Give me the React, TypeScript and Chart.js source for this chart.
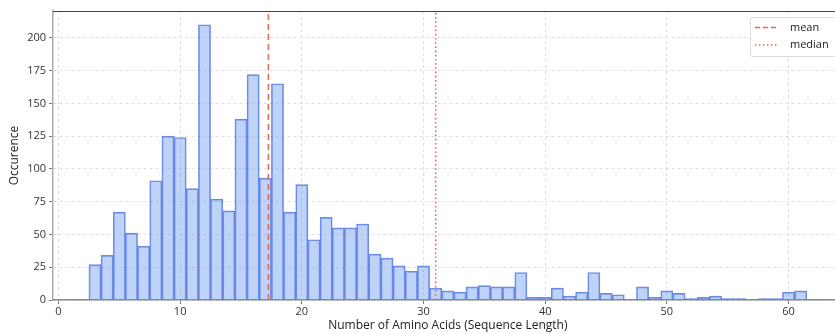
import React, { useEffect, useRef } from "react";
import { Chart, registerables } from "chart.js";

Chart.register(...registerables);

// Histogram bins (sequence length, one bin per integer length)
const lengths: number[] = [
  3, 4, 5, 6, 7, 8, 9, 10, 11, 12, 13, 14, 15, 16, 17, 18, 19, 20, 21, 22,
  23, 24, 25, 26, 27, 28, 29, 30, 31, 32, 33, 34, 35, 36, 37, 38, 39, 40, 41,
  42, 43, 44, 45, 46, 47, 48, 49, 50, 51, 52, 53, 54, 55, 56, 57, 58, 59, 60,
  61,
];
const counts: (number | null)[] = [
  27, 34, 67, 51, 41, 91, 125, 124, 85, 210, 77, 68, 138, 172, 93, 165, 67,
  88, 46, 63, 55, 55, 58, 35, 32, 26, 22, 26, 9, 7, 6, 10, 11, 10, 10, 21, 2,
  2, 9, 3, 6, 21, 5, 4, null, 10, 2, 7, 5, 1, 2, 3, 1, 1, null, 1, 1, 6, 7,
];

const meanLength = 17.25;
const medianLength = 31;

const xTickStep = 10;
const yTickStep = 25;
const xRange = [-0.45, 64.45];
const yRange = [0, 220.5];

const FONT = "'Open Sans', 'DejaVu Sans', sans-serif";
const LINE_RED = "#e8654f";

const W = 845;
const H = 334;

export default function App() {
  const ref = useRef<HTMLCanvasElement | null>(null);

  useEffect(() => {
    const canvas = ref.current;
    if (!canvas) return;

    const framePlugin = {
      id: "frame",
      afterDraw(chart: any) {
        const { ctx, chartArea } = chart;
        ctx.save();
        // top spine
        ctx.strokeStyle = "#444";
        ctx.lineWidth = 1;
        ctx.beginPath();
        ctx.moveTo(chartArea.left, chartArea.top + 0.5);
        ctx.lineTo(chartArea.right, chartArea.top + 0.5);
        ctx.stroke();

        // legend
        const bx = 750.5;
        const by = 17.5;
        const bw = 86;
        const bh = 39;
        ctx.fillStyle = "rgba(255,255,255,0.85)";
        ctx.strokeStyle = "#dcdcdc";
        ctx.lineWidth = 1;
        ctx.beginPath();
        ctx.roundRect(bx, by, bw, bh, 2);
        ctx.fill();
        ctx.stroke();

        const rows = [
          { label: "mean", dash: [5, 3], y: 27.5 },
          { label: "median", dash: [1.5, 2.5], y: 45 },
        ];
        ctx.font = `11px ${FONT}`;
        ctx.textBaseline = "middle";
        ctx.textAlign = "left";
        for (const r of rows) {
          ctx.strokeStyle = LINE_RED;
          ctx.lineWidth = 1.5;
          ctx.setLineDash(r.dash);
          ctx.beginPath();
          ctx.moveTo(755, r.y);
          ctx.lineTo(779, r.y);
          ctx.stroke();
          ctx.setLineDash([]);
          ctx.fillStyle = "#222";
          ctx.fillText(r.label, 790, r.y);
        }
        ctx.restore();
      },
    };

    const vline = (x: number) => [
      { x, y: yRange[0] },
      { x, y: yRange[1] },
    ];

    const chart = new Chart(canvas, {
      type: "bar",
      data: {
        datasets: [
          {
            type: "bar",
            label: "count",
            data: lengths.map((x, i) => ({ x, y: counts[i] })) as any,
            backgroundColor: "rgba(100,149,237,0.42)",
            borderColor: "rgba(75,110,222,0.8)",
            borderWidth: 1,
            barPercentage: 1,
            categoryPercentage: 1,
            grouped: false,
            order: 2,
          },
          {
            type: "line",
            label: "mean",
            data: vline(meanLength),
            borderColor: LINE_RED,
            borderWidth: 1.5,
            borderDash: [6, 4],
            pointRadius: 0,
            fill: false,
            order: 1,
          },
          {
            type: "line",
            label: "median",
            data: vline(medianLength),
            borderColor: LINE_RED,
            borderWidth: 1.6,
            borderDash: [1.6, 2.6],
            pointRadius: 0,
            fill: false,
            order: 1,
          },
        ],
      },
      options: {
        responsive: false,
        animation: false,
        layout: { padding: { top: 11, right: 2.3, left: 0, bottom: 0 } },
        plugins: {
          legend: { display: false },
          tooltip: { enabled: false },
        },
        scales: {
          x: {
            type: "linear",
            min: xRange[0],
            max: xRange[1],
            offset: false,
            afterFit(scale: any) {
              scale.height = 34;
            },
            ticks: {
              stepSize: xTickStep,
              includeBounds: false,
              font: { family: FONT, size: 11 },
              color: "#333",
              padding: 1,
              maxRotation: 0,
            },
            grid: {
              color: "#d6d6d6",
              lineWidth: 0.8,
              offset: false,
              tickLength: 4,
              tickColor: "#555",
              tickBorderDash: [],
            },
            border: { color: "#888", width: 1.5, dash: [3, 3] },
            title: {
              display: true,
              text: "Number of Amino Acids (Sequence Length)",
              font: { family: FONT, size: 12 },
              color: "#222",
              padding: { top: 0, bottom: 1 },
            },
          },
          y: {
            type: "linear",
            min: yRange[0],
            max: yRange[1],
            afterFit(scale: any) {
              scale.width = 53;
            },
            ticks: {
              stepSize: yTickStep,
              includeBounds: false,
              font: { family: FONT, size: 11 },
              color: "#333",
              padding: 3,
            },
            grid: {
              color: "#d6d6d6",
              lineWidth: 0.8,
              tickLength: 4,
              tickColor: "#555",
              tickBorderDash: [],
            },
            border: { color: "#aaa", width: 1.5, dash: [3, 3] },
            title: {
              display: true,
              text: "Occurence",
              font: { family: FONT, size: 12 },
              color: "#222",
              padding: { top: 7, bottom: 0 },
            },
          },
        },
      },
      plugins: [framePlugin],
    });

    return () => chart.destroy();
  }, []);

  return (
    <div
      style={{
        position: "fixed",
        left: 0,
        top: 0,
        width: 835,
        height: H,
        overflow: "hidden",
        background: "#fff",
      }}
    >
      <canvas ref={ref} width={W} height={H} style={{ width: W, height: H, display: "block" }} />
    </div>
  );
}
